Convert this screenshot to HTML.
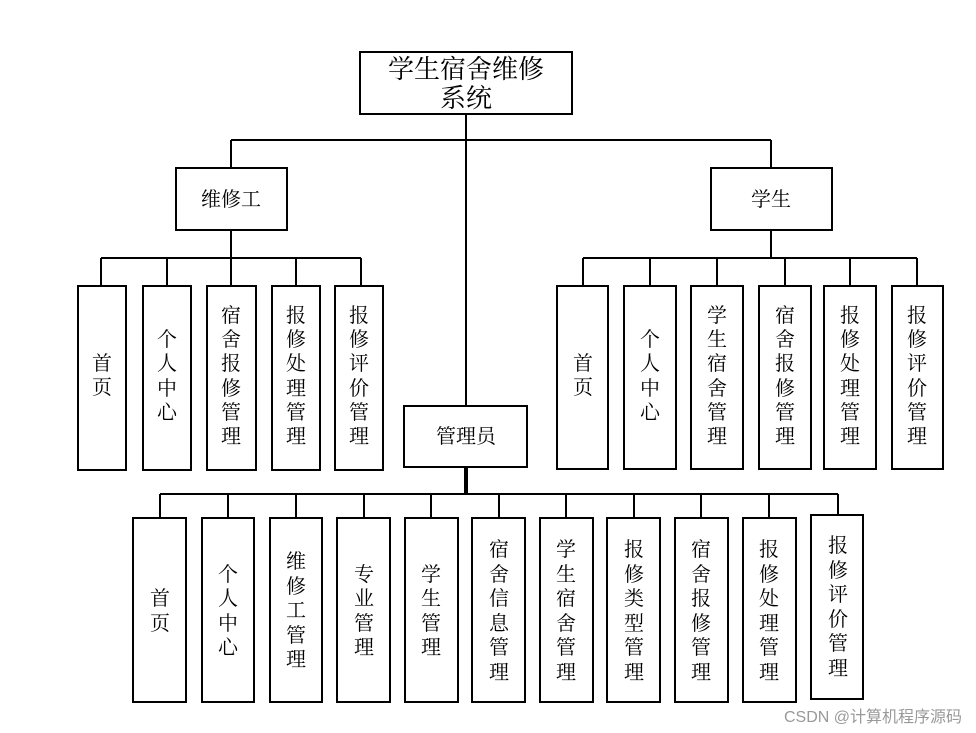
<!DOCTYPE html>
<html><head><meta charset="utf-8"><style>
body{margin:0;background:#fff}
svg{display:block}
text{font-family:"Liberation Serif","Noto Serif CJK SC","Noto Sans CJK SC",serif;fill:#000}
</style></head><body>
<svg width="976" height="733" viewBox="0 0 976 733" xmlns="http://www.w3.org/2000/svg">
<g stroke="#000" stroke-width="2" fill="none">
<!-- root connectors -->
<line x1="466" y1="114" x2="466" y2="406"/>
<line x1="231" y1="140" x2="771" y2="140"/>
<line x1="231" y1="140" x2="231" y2="168"/>
<line x1="771" y1="140" x2="771" y2="168"/>
<!-- left -->
<line x1="231" y1="230" x2="231" y2="258"/>
<line x1="101" y1="258" x2="361" y2="258"/>
<line x1="101" y1="258" x2="101" y2="286"/>
<line x1="167" y1="258" x2="167" y2="286"/>
<line x1="231" y1="258" x2="231" y2="286"/>
<line x1="296" y1="258" x2="296" y2="286"/>
<line x1="361" y1="258" x2="361" y2="286"/>
<!-- right -->
<line x1="771" y1="230" x2="771" y2="258"/>
<line x1="583" y1="258" x2="917" y2="258"/>
<line x1="583" y1="258" x2="583" y2="286"/>
<line x1="650" y1="258" x2="650" y2="286"/>
<line x1="717" y1="258" x2="717" y2="286"/>
<line x1="785" y1="258" x2="785" y2="286"/>
<line x1="850" y1="258" x2="850" y2="286"/>
<line x1="917" y1="258" x2="917" y2="286"/>
<!-- bottom -->
<line x1="466" y1="467" x2="466" y2="494" stroke-width="4"/>
<line x1="160" y1="494" x2="838" y2="494"/>
<line x1="160" y1="494" x2="160" y2="518"/>
<line x1="228" y1="494" x2="228" y2="518"/>
<line x1="296" y1="494" x2="296" y2="518"/>
<line x1="364" y1="494" x2="364" y2="518"/>
<line x1="431" y1="494" x2="431" y2="518"/>
<line x1="499" y1="494" x2="499" y2="518"/>
<line x1="566" y1="494" x2="566" y2="518"/>
<line x1="634" y1="494" x2="634" y2="518"/>
<line x1="701" y1="494" x2="701" y2="518"/>
<line x1="769" y1="494" x2="769" y2="518"/>
<line x1="838" y1="494" x2="838" y2="515"/>
<!-- boxes -->
<rect x="360" y="52" width="212" height="62"/>
<rect x="176" y="168" width="111" height="62"/>
<rect x="711" y="168" width="121" height="62"/>
<rect x="404" y="406" width="123" height="61"/>
<rect x="78" y="286" width="48" height="184"/>
<rect x="143" y="286" width="48" height="184"/>
<rect x="207" y="286" width="49" height="184"/>
<rect x="272" y="286" width="48" height="184"/>
<rect x="335" y="286" width="48" height="184"/>
<rect x="557" y="286" width="51" height="183"/>
<rect x="624" y="286" width="52" height="183"/>
<rect x="691" y="286" width="52" height="183"/>
<rect x="759" y="286" width="52" height="183"/>
<rect x="824" y="286" width="52" height="183"/>
<rect x="892" y="286" width="51" height="183"/>
<rect x="133" y="518" width="53" height="184"/>
<rect x="202" y="518" width="52" height="184"/>
<rect x="270" y="518" width="52" height="184"/>
<rect x="337" y="518" width="53" height="184"/>
<rect x="405" y="518" width="53" height="184"/>
<rect x="472" y="518" width="53" height="184"/>
<rect x="540" y="518" width="53" height="184"/>
<rect x="607" y="518" width="53" height="184"/>
<rect x="675" y="518" width="53" height="184"/>
<rect x="743" y="518" width="53" height="184"/>
<rect x="811" y="515" width="52" height="184"/>
</g>
<g text-anchor="middle">
<text x="466" y="78" font-size="26">学生宿舍维修</text>
<text x="466" y="107" font-size="26">系统</text>
<text x="231" y="206" font-size="20">维修工</text>
<text x="771" y="206" font-size="20">学生</text>
<text x="466" y="443" font-size="20">管理员</text>
</g>
<g font-size="20" text-anchor="middle">
<!-- left -->
<text x="102"><tspan x="102" y="370">首</tspan><tspan x="102" y="394">页</tspan></text>
<text><tspan x="167" y="346">个</tspan><tspan x="167" y="370">人</tspan><tspan x="167" y="395">中</tspan><tspan x="167" y="419">心</tspan></text>
<text><tspan x="231" y="322">宿</tspan><tspan x="231" y="346">舍</tspan><tspan x="231" y="370">报</tspan><tspan x="231" y="395">修</tspan><tspan x="231" y="419">管</tspan><tspan x="231" y="443">理</tspan></text>
<text><tspan x="296" y="322">报</tspan><tspan x="296" y="346">修</tspan><tspan x="296" y="370">处</tspan><tspan x="296" y="395">理</tspan><tspan x="296" y="419">管</tspan><tspan x="296" y="443">理</tspan></text>
<text><tspan x="359" y="322">报</tspan><tspan x="359" y="346">修</tspan><tspan x="359" y="370">评</tspan><tspan x="359" y="395">价</tspan><tspan x="359" y="419">管</tspan><tspan x="359" y="443">理</tspan></text>
<!-- right -->
<text><tspan x="583" y="370">首</tspan><tspan x="583" y="394">页</tspan></text>
<text><tspan x="650" y="346">个</tspan><tspan x="650" y="370">人</tspan><tspan x="650" y="395">中</tspan><tspan x="650" y="419">心</tspan></text>
<text><tspan x="717" y="322">学</tspan><tspan x="717" y="346">生</tspan><tspan x="717" y="370">宿</tspan><tspan x="717" y="395">舍</tspan><tspan x="717" y="419">管</tspan><tspan x="717" y="443">理</tspan></text>
<text><tspan x="785" y="322">宿</tspan><tspan x="785" y="346">舍</tspan><tspan x="785" y="370">报</tspan><tspan x="785" y="395">修</tspan><tspan x="785" y="419">管</tspan><tspan x="785" y="443">理</tspan></text>
<text><tspan x="850" y="322">报</tspan><tspan x="850" y="346">修</tspan><tspan x="850" y="370">处</tspan><tspan x="850" y="395">理</tspan><tspan x="850" y="419">管</tspan><tspan x="850" y="443">理</tspan></text>
<text><tspan x="917" y="322">报</tspan><tspan x="917" y="346">修</tspan><tspan x="917" y="370">评</tspan><tspan x="917" y="395">价</tspan><tspan x="917" y="419">管</tspan><tspan x="917" y="443">理</tspan></text>
<!-- bottom -->
<text><tspan x="160" y="605">首</tspan><tspan x="160" y="630">页</tspan></text>
<text><tspan x="228" y="581">个</tspan><tspan x="228" y="605">人</tspan><tspan x="228" y="630">中</tspan><tspan x="228" y="654">心</tspan></text>
<text><tspan x="296" y="568">维</tspan><tspan x="296" y="593">修</tspan><tspan x="296" y="617">工</tspan><tspan x="296" y="642">管</tspan><tspan x="296" y="666">理</tspan></text>
<text><tspan x="364" y="581">专</tspan><tspan x="364" y="605">业</tspan><tspan x="364" y="630">管</tspan><tspan x="364" y="654">理</tspan></text>
<text><tspan x="431" y="581">学</tspan><tspan x="431" y="605">生</tspan><tspan x="431" y="630">管</tspan><tspan x="431" y="654">理</tspan></text>
<text><tspan x="499" y="556">宿</tspan><tspan x="499" y="581">舍</tspan><tspan x="499" y="605">信</tspan><tspan x="499" y="630">息</tspan><tspan x="499" y="654">管</tspan><tspan x="499" y="679">理</tspan></text>
<text><tspan x="566" y="556">学</tspan><tspan x="566" y="581">生</tspan><tspan x="566" y="605">宿</tspan><tspan x="566" y="630">舍</tspan><tspan x="566" y="654">管</tspan><tspan x="566" y="679">理</tspan></text>
<text><tspan x="634" y="556">报</tspan><tspan x="634" y="581">修</tspan><tspan x="634" y="605">类</tspan><tspan x="634" y="630">型</tspan><tspan x="634" y="654">管</tspan><tspan x="634" y="679">理</tspan></text>
<text><tspan x="701" y="556">宿</tspan><tspan x="701" y="581">舍</tspan><tspan x="701" y="605">报</tspan><tspan x="701" y="630">修</tspan><tspan x="701" y="654">管</tspan><tspan x="701" y="679">理</tspan></text>
<text><tspan x="769" y="556">报</tspan><tspan x="769" y="581">修</tspan><tspan x="769" y="605">处</tspan><tspan x="769" y="630">理</tspan><tspan x="769" y="654">管</tspan><tspan x="769" y="679">理</tspan></text>
<text><tspan x="838" y="552">报</tspan><tspan x="838" y="577">修</tspan><tspan x="838" y="601">评</tspan><tspan x="838" y="626">价</tspan><tspan x="838" y="650">管</tspan><tspan x="838" y="675">理</tspan></text>
</g>
<text x="962" y="722" font-size="16" text-anchor="end" style="font-family:'Liberation Sans','Noto Sans CJK SC',sans-serif;fill:#999">CSDN @计算机程序源码</text>
</svg>
</body></html>
